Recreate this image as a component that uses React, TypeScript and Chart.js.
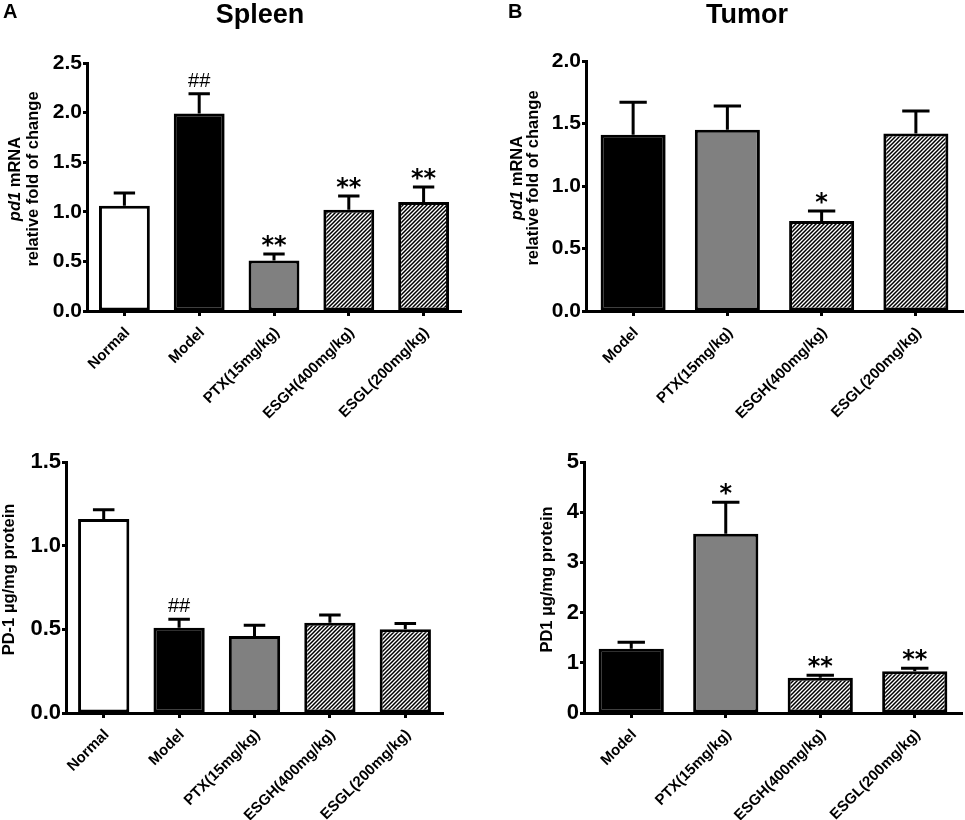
import { useEffect, useRef } from 'react';
import { Chart, registerables } from 'chart.js';

Chart.register(...registerables);

const FONT = "'Liberation Sans', Arial, Helvetica, sans-serif";

// group names
const spleenGroups = ['Normal', 'Model', 'PTX(15mg/kg)', 'ESGH(400mg/kg)', 'ESGL(200mg/kg)'];
const tumorGroups = ['Model', 'PTX(15mg/kg)', 'ESGH(400mg/kg)', 'ESGL(200mg/kg)'];

// A: spleen pd1 mRNA
const spleenMrna = [1.06, 1.99, 0.51, 1.02, 1.1];
const spleenMrnaSem = [0.13, 0.2, 0.065, 0.14, 0.15];
const spleenMrnaSig = ['', '##', '**', '**', '**'];

// B: tumor pd1 mRNA
const tumorMrna = [1.41, 1.45, 0.72, 1.42];
const tumorMrnaSem = [0.26, 0.19, 0.08, 0.18];
const tumorMrnaSig = ['', '', '*', ''];

// spleen PD-1 protein
const spleenProt = [1.16, 0.51, 0.46, 0.54, 0.5];
const spleenProtSem = [0.055, 0.05, 0.065, 0.045, 0.035];
const spleenProtSig = ['', '##', '', '', ''];

// tumor PD1 protein
const tumorProt = [1.28, 3.57, 0.7, 0.83];
const tumorProtSem = [0.13, 0.63, 0.05, 0.06];
const tumorProtSig = ['', '*', '**', '**'];

type Seg = { text: string; italic?: boolean };

interface PanelSpec {
  groups: string[];
  values: number[];
  sem: number[];
  marks: string[];
  max: number;
  step: number;
  decimals: number;
  tickSize: number;
  barPct: number;
  titleLines: Seg[][];
  titleX: number[];
  box: { left: number; top: number; width: number; height: number };
  area: { left: number; top: number; right: number; bottom: number };
}

const mrnaTitle: Seg[][] = [
  [{ text: 'pd1', italic: true }, { text: ' mRNA' }],
  [{ text: 'relative fold of change' }],
];

const panels: PanelSpec[] = [
  {
    groups: spleenGroups, values: spleenMrna, sem: spleenMrnaSem, marks: spleenMrnaSig,
    max: 2.5, step: 0.5, decimals: 1, tickSize: 21, barPct: 0.68,
    titleLines: mrnaTitle, titleX: [15, 33],
    box: { left: 0, top: 0, width: 480, height: 440 },
    area: { left: 87, top: 63, right: 461, bottom: 311 },
  },
  {
    groups: tumorGroups, values: tumorMrna, sem: tumorMrnaSem, marks: tumorMrnaSig,
    max: 2.0, step: 0.5, decimals: 1, tickSize: 21, barPct: 0.69,
    titleLines: mrnaTitle, titleX: [37, 53],
    box: { left: 480, top: 0, width: 485, height: 440 },
    area: { left: 106, top: 61, right: 483, bottom: 311 },
  },
  {
    groups: spleenGroups, values: spleenProt, sem: spleenProtSem, marks: spleenProtSig,
    max: 1.5, step: 0.5, decimals: 1, tickSize: 22, barPct: 0.68,
    titleLines: [[{ text: 'PD-1 µg/mg protein' }]], titleX: [9],
    box: { left: 0, top: 410, width: 480, height: 410 },
    area: { left: 66, top: 52, right: 443, bottom: 303 },
  },
  {
    groups: tumorGroups, values: tumorProt, sem: tumorProtSem, marks: tumorProtSig,
    max: 5, step: 1, decimals: 0, tickSize: 22, barPct: 0.69,
    titleLines: [[{ text: 'PD1 µg/mg protein' }]], titleX: [67],
    box: { left: 480, top: 410, width: 485, height: 410 },
    area: { left: 104, top: 52, right: 482, bottom: 303 },
  },
];

function makeHatch(): CanvasPattern | string {
  const c = document.createElement('canvas');
  c.width = 4;
  c.height = 4;
  const g = c.getContext('2d');
  if (!g) return '#fff';
  g.fillStyle = '#fff';
  g.fillRect(0, 0, 4, 4);
  g.strokeStyle = '#000';
  g.lineWidth = 1.5;
  g.beginPath();
  g.moveTo(0, 4);
  g.lineTo(4, 0);
  g.moveTo(-1, 1);
  g.lineTo(1, -1);
  g.moveTo(3, 5);
  g.lineTo(5, 3);
  g.stroke();
  return g.createPattern(c, 'repeat') ?? '#fff';
}

function fillFor(name: string, hatch: CanvasPattern | string) {
  if (name === 'Normal') return '#ffffff';
  if (name === 'Model') return '#000000';
  if (name.startsWith('PTX')) return '#808080';
  return hatch;
}

function overlay(p: PanelSpec) {
  return {
    id: 'overlay',
    afterDatasetsDraw(chart: any) {
      const ctx: CanvasRenderingContext2D = chart.ctx;
      const yScale = chart.scales.y;
      const meta = chart.getDatasetMeta(0);
      ctx.save();
      ctx.strokeStyle = '#000';
      ctx.fillStyle = '#000';
      ctx.lineWidth = 3;
      meta.data.forEach((bar: any, i: number) => {
        const { x, y, width } = bar.getProps(['x', 'y', 'width'], true);
        const errY = yScale.getPixelForValue(p.values[i] + p.sem[i]);
        const cap = width * 0.42;
        ctx.beginPath();
        ctx.moveTo(x, y);
        ctx.lineTo(x, errY);
        ctx.moveTo(x - cap / 2, errY);
        ctx.lineTo(x + cap / 2, errY);
        ctx.stroke();
        const m = p.marks[i];
        if (m) {
          ctx.textAlign = 'center';
          ctx.textBaseline = 'alphabetic';
          if (m.startsWith('*')) {
            ctx.font = "bold 24px 'DejaVu Sans', sans-serif";
            ctx.fillText(m, x, errY - 1);
          } else {
            ctx.font = `20px ${FONT}`;
            ctx.fillText(m, x, errY - 7);
          }
        }
      });
      ctx.restore();
    },
    afterDraw(chart: any) {
      const ctx: CanvasRenderingContext2D = chart.ctx;
      const { top, bottom } = chart.chartArea;
      const cy = (top + bottom) / 2 - 8;
      ctx.save();
      ctx.fillStyle = '#000';
      ctx.textBaseline = 'middle';
      ctx.textAlign = 'left';
      p.titleLines.forEach((segs, li) => {
        const fonts = segs.map((s) => `${s.italic ? 'italic ' : ''}bold 16.5px ${FONT}`);
        const widths = segs.map((s, k) => {
          ctx.font = fonts[k];
          return ctx.measureText(s.text).width;
        });
        const total = widths.reduce((a, b) => a + b, 0);
        ctx.save();
        ctx.translate(p.titleX[li], cy);
        ctx.rotate(-Math.PI / 2);
        let xx = -total / 2;
        segs.forEach((s, k) => {
          ctx.font = fonts[k];
          ctx.fillText(s.text, xx, 0);
          xx += widths[k];
        });
        ctx.restore();
      });
      ctx.restore();
    },
  };
}

function Panel({ spec }: { spec: PanelSpec }) {
  const canvasRef = useRef<HTMLCanvasElement>(null);
  const chartRef = useRef<Chart | null>(null);

  useEffect(() => {
    if (!canvasRef.current) return;
    chartRef.current?.destroy();
    const hatch = makeHatch();
    const { box, area } = spec;

    chartRef.current = new Chart(canvasRef.current, {
      type: 'bar',
      data: {
        labels: spec.groups,
        datasets: [
          {
            data: spec.values,
            backgroundColor: spec.groups.map((g) => fillFor(g, hatch)) as any,
            borderColor: '#000',
            borderWidth: 3,
            borderSkipped: false,
            barPercentage: spec.barPct,
            categoryPercentage: 1,
          },
        ],
      },
      options: {
        responsive: true,
        maintainAspectRatio: false,
        animation: false,
        layout: {
          padding: { top: area.top, right: box.width - area.right, left: 0, bottom: 0 },
        },
        plugins: {
          legend: { display: false },
          tooltip: { enabled: false },
        },
        scales: {
          x: {
            offset: true,
            grid: {
              drawOnChartArea: false,
              offset: false,
              tickLength: 5,
              tickWidth: 3,
              tickColor: '#000',
            },
            border: { color: '#000', width: 3 },
            ticks: {
              color: '#000',
              font: { family: FONT, size: 15, weight: 'bold' },
              minRotation: 45,
              maxRotation: 45,
              autoSkip: false,
              padding: 8,
              labelOffset: 3,
            },
            afterFit: (s: any) => {
              s.height = box.height - area.bottom;
            },
          },
          y: {
            min: 0,
            max: spec.max,
            grid: {
              drawOnChartArea: false,
              tickLength: 4,
              tickWidth: 3,
              tickColor: '#000',
            },
            border: { color: '#000', width: 3 },
            ticks: {
              stepSize: spec.step,
              color: '#000',
              padding: 1,
              font: { family: FONT, size: spec.tickSize, weight: 'bold' },
              callback: (v) => Number(v).toFixed(spec.decimals),
            },
            afterFit: (s: any) => {
              s.width = area.left;
            },
          },
        },
      },
      plugins: [overlay(spec)],
    });

    return () => {
      chartRef.current?.destroy();
      chartRef.current = null;
    };
  }, [spec]);

  const { box } = spec;
  return (
    <div style={{ position: 'absolute', left: box.left, top: box.top, width: box.width, height: box.height }}>
      <canvas ref={canvasRef} />
    </div>
  );
}

const headStyle = {
  position: 'absolute' as const,
  fontFamily: FONT,
  fontWeight: 'bold' as const,
  color: '#000',
  whiteSpace: 'nowrap' as const,
};

export default function App() {
  return (
    <div style={{ position: 'fixed', left: 0, top: 0, width: 965, height: 820, background: '#fff', overflow: 'hidden' }}>
      {panels.map((p, i) => (
        <Panel key={i} spec={p} />
      ))}
      <div style={{ ...headStyle, left: 3, top: 0, fontSize: 20, lineHeight: '22px' }}>A</div>
      <div style={{ ...headStyle, left: 508, top: 0, fontSize: 20, lineHeight: '22px' }}>B</div>
      <div style={{ ...headStyle, left: 160, width: 200, textAlign: 'center', top: 0, fontSize: 27, lineHeight: '28px' }}>
        Spleen
      </div>
      <div style={{ ...headStyle, left: 647, width: 200, textAlign: 'center', top: 0, fontSize: 27, lineHeight: '28px' }}>
        Tumor
      </div>
    </div>
  );
}
